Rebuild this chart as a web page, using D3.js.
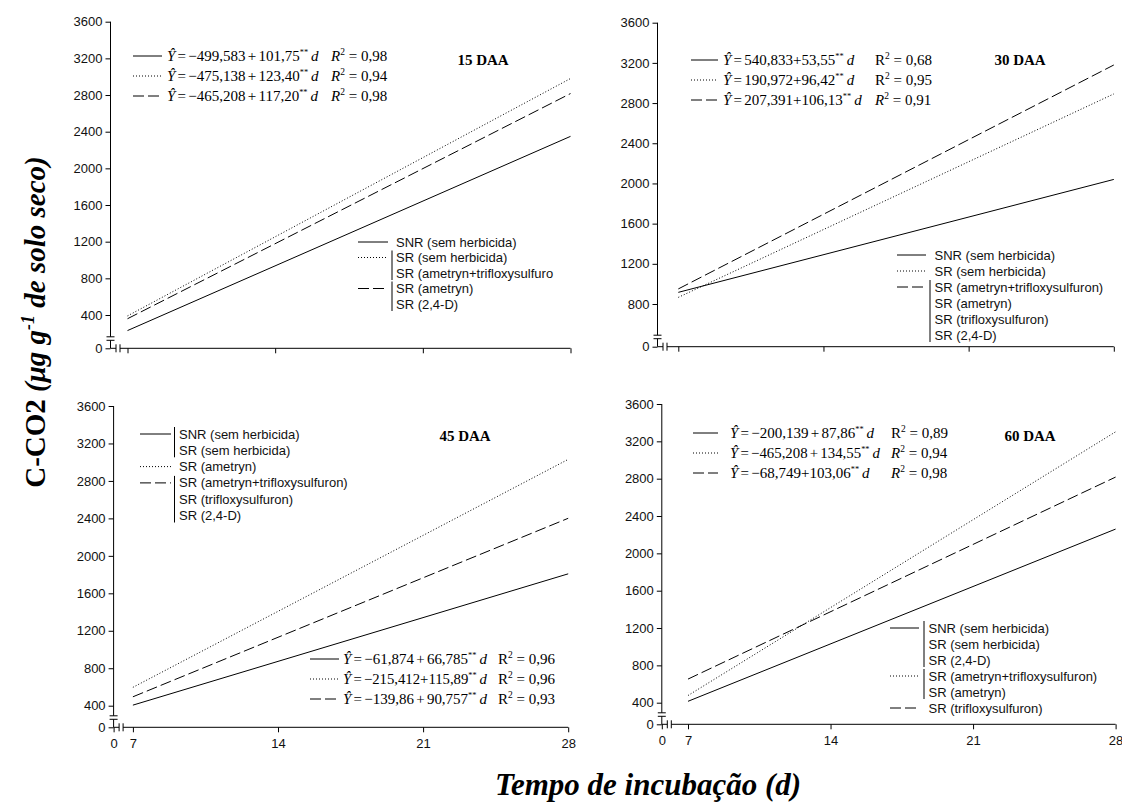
<!DOCTYPE html>
<html>
<head>
<meta charset="utf-8">
<script src="https://cdn.jsdelivr.net/npm/d3@7"></script>
<style>
  body { margin: 0; background: #fff; }
  svg { display: block; }
  .tick text { font-family: "Liberation Sans", Arial, sans-serif; font-size: 13px; fill: #111; }
</style>
</head>
<body>
<svg id="chart" width="1122" height="805"></svg>
<script>
const days = [7, 28];
const xTicks = [0, 7, 14, 21, 28];
const yTicks = [0, 400, 800, 1200, 1600, 2000, 2400, 2800, 3200, 3600];
const yTicks30 = [0, 800, 1200, 1600, 2000, 2400, 2800, 3200, 3600];
const titles = ["15 DAA", "30 DAA", "45 DAA", "60 DAA"];

// fitted C-CO2 at 7 and 28 days
const solid15 = [213, 2349], dotted15 = [389, 2980], dashed15 = [355, 2816];
const solid30 = [916, 2040], dotted30 = [866, 2891], dashed30 = [950, 3179];
const solid45 = [406, 1808], dotted45 = [596, 3030], dashed45 = [495, 2401];
const solid60 = [415, 2260], dotted60 = [477, 3302], dashed60 = [653, 2817];

// regression rows: intercept, slope, R², R in italic
const eq15 = [["\u2212499,583 + ", "101,75", "0,98", true],
              ["\u2212475,138 + ", "123,40", "0,94", true],
              ["\u2212465,208 + ", "117,20", "0,98", true]];
const eq30 = [["540,833+", "53,55", "0,68", false],
              ["190,972+", "96,42", "0,95", false],
              ["207,391+", "106,13", "0,91", true]];
const eq45 = [["\u221261,874 + ", "66,785", "0,96", false],
              ["\u2212215,412+", "115,89", "0,96", false],
              ["\u2212139,86 + ", "90,757", "0,93", false]];
const eq60 = [["\u2212200,139 + ", "87,86", "0,89", false],
              ["\u2212465,208 + ", "134,55", "0,94", true],
              ["\u221268,749+", "103,06", "0,98", true]];

// legend groups: line style, rows
const leg15 = [["solid", ["SNR (sem herbicida)"]],
               ["dotted", ["SR (sem herbicida)", "SR (ametryn+trifloxysulfuro"]],
               ["dashed", ["SR (ametryn)", "SR (2,4-D)"]]];
const leg30 = [["solid", ["SNR (sem herbicida)"]],
               ["dotted", ["SR (sem herbicida)"]],
               ["dashed", ["SR (ametryn+trifloxysulfuron)", "SR (ametryn)", "SR (trifloxysulfuron)", "SR (2,4-D)"]]];
const leg45 = [["solid", ["SNR (sem herbicida)", "SR (sem herbicida)"]],
               ["dotted", ["SR (ametryn)"]],
               ["dashed", ["SR (ametryn+trifloxysulfuron)", "SR (trifloxysulfuron)", "SR (2,4-D)"]]];
const leg60 = [["solid", ["SNR (sem herbicida)", "SR (sem herbicida)", "SR (2,4-D)"]],
               ["dotted", ["SR (ametryn+trifloxysulfuron)", "SR (ametryn)"]],
               ["dashed", ["SR (trifloxysulfuron)"]]];

const dash = { solid: null, dotted: "1,2", dashed: "11,4" };
const serif = '"Liberation Serif", "Times New Roman", serif';
const sans = '"Liberation Sans", Arial, sans-serif';

const svg = d3.select("#chart");

const panels = [
  { title: titles[0], series: [solid15, dotted15, dashed15], eq: eq15, leg: leg15, yt: yTicks, yBreak: 400,
    xr: [110.5, 127.5, 570.5], yr: [348.3, 315, 21.7], labels: false,
    tpos: [483, 65], ePos: { s: [133, 162], x: 167, r: 331, y: 61 }, lPos: { s: [358, 388], b: 392, x: 396, y: 242, dy: 15.5 } },
  { title: titles[1], series: [solid30, dotted30, dashed30], eq: eq30, leg: leg30, yt: yTicks30, yBreak: 800,
    xr: [657.5, 678.3, 1113.8], yr: [346.7, 304, 22.7], labels: false,
    tpos: [1020, 65], ePos: { s: [691, 718], x: 723, r: 875, y: 65 }, lPos: { s: [897, 926], b: 930, x: 934.5, y: 255, dy: 16 } },
  { title: titles[2], series: [solid45, dotted45, dashed45], eq: eq45, leg: leg45, yt: yTicks, yBreak: 400,
    xr: [113.6, 132.9, 568.2], yr: [727.3, 705.7, 406], labels: true,
    tpos: [465, 441], ePos: { s: [310, 339], x: 343, r: 498, y: 664 }, lPos: { s: [140, 171], b: 174.5, x: 179, y: 434, dy: 16.3 } },
  { title: titles[3], series: [solid60, dotted60, dashed60], eq: eq60, leg: leg60, yt: yTicks, yBreak: 400,
    xr: [661.8, 688, 1115.6], yr: [724.3, 702.7, 404], labels: true,
    tpos: [1030, 441], ePos: { s: [693, 718], x: 730, r: 891, y: 438 }, lPos: { s: [890, 919], b: 924, x: 928.5, y: 628, dy: 16 } },
];

const styleOrder = ["solid", "dotted", "dashed"];

function drawPanel(p) {
  const x = d3.scaleLinear().domain([0, 7, 28]).range(p.xr);
  const y = d3.scaleLinear().domain([0, p.yBreak, 3600]).range(p.yr);
  const g = svg.append("g");

  // y axis with break
  const ya = g.append("g").attr("transform", `translate(${x(0)},0)`)
    .call(d3.axisLeft(y).tickValues(p.yt).tickSize(5).tickPadding(3).tickFormat(d3.format("d")));
  ya.select(".domain").remove();
  const x0 = x(0), y0 = y(0);
  g.append("line").attr("x1", x0).attr("x2", x0).attr("y1", y(3600)).attr("y2", y0 - 11.5).attr("stroke", "#000");
  g.append("line").attr("x1", x0).attr("x2", x0).attr("y1", y0 - 8).attr("y2", y0).attr("stroke", "#000");
  [y0 - 11.5, y0 - 8].forEach((v) => {
    g.append("line").attr("x1", x0 - 4).attr("x2", x0 + 4).attr("y1", v).attr("y2", v).attr("stroke", "#000");
  });

  // x axis with break
  const xa = g.append("g").attr("transform", `translate(0,${y0})`)
    .call(d3.axisBottom(x).tickValues(p.labels ? xTicks : xTicks.slice(1)).tickSize(5).tickPadding(6)
      .tickFormat(p.labels ? d3.format("d") : () => ""));
  xa.select(".domain").remove();
  g.append("line").attr("x1", x0).attr("x2", x0 + 5.5).attr("y1", y0).attr("y2", y0).attr("stroke", "#000");
  g.append("line").attr("x1", x0 + 9.5).attr("x2", x(28)).attr("y1", y0).attr("y2", y0).attr("stroke", "#000");
  [x0 + 5.5, x0 + 9.5].forEach((v) => {
    g.append("line").attr("x1", v).attr("x2", v).attr("y1", y0 - 4).attr("y2", y0 + 4).attr("stroke", "#000");
  });

  // regression lines
  const line = d3.line().x((d) => x(d[0])).y((d) => y(d[1]));
  p.series.forEach((s, i) => {
    g.append("path")
      .attr("d", line(days.map((d, j) => [d, s[j]])))
      .attr("fill", "none").attr("stroke", "#000").attr("stroke-width", 1)
      .attr("stroke-dasharray", dash[styleOrder[i]]);
  });

  // title
  g.append("text").attr("x", p.tpos[0]).attr("y", p.tpos[1]).attr("text-anchor", "middle")
    .style("font-family", serif).style("font-weight", "bold").style("font-size", "15px").text(p.title);

  // equations
  p.eq.forEach((row, i) => {
    const by = p.ePos.y + i * 20;
    g.append("line").attr("x1", p.ePos.s[0]).attr("x2", p.ePos.s[1]).attr("y1", by - 5).attr("y2", by - 5)
      .attr("stroke", "#000").attr("stroke-width", 1).attr("stroke-dasharray", dash[styleOrder[i]]);
    const t = g.append("text").attr("x", p.ePos.x).attr("y", by).style("font-family", serif)
      .style("font-size", "15px").style("word-spacing", "-1.5px");
    t.append("tspan").style("font-style", "italic").text("\u0176");
    t.append("tspan").text(" = " + row[0] + row[1]);
    t.append("tspan").attr("dy", "-0.68em").style("font-size", "0.56em").text("**");
    t.append("tspan").attr("dy", "0.38em").style("font-style", "italic").text("\u2009d");
    // shrink the formula a little if it would run into R²
    const room = p.ePos.r - p.ePos.x - 11;
    const len = t.node().getComputedTextLength();
    if (len > room) t.style("font-size", (15 * room / len).toFixed(2) + "px");
    const r = g.append("text").attr("x", p.ePos.r).attr("y", by).style("font-family", serif).style("font-size", "15px");
    r.append("tspan").style("font-style", row[3] ? "italic" : "normal").text("R");
    r.append("tspan").attr("dy", -6).style("font-size", "9.5px").text("2");
    r.append("tspan").attr("dy", 6).text(" = " + row[2]);
  });

  // legend
  let k = 0;
  p.leg.forEach(([style, rows]) => {
    const cy = p.lPos.y + k * p.lPos.dy;
    g.append("line").attr("x1", p.lPos.s[0]).attr("x2", p.lPos.s[1]).attr("y1", cy).attr("y2", cy)
      .attr("stroke", "#000").attr("stroke-width", 1).attr("stroke-dasharray", dash[style]);
    if (rows.length > 1) {
      g.append("line").attr("x1", p.lPos.b).attr("x2", p.lPos.b)
        .attr("y1", cy - 7).attr("y2", cy + (rows.length - 1) * p.lPos.dy + 7).attr("stroke", "#000");
    }
    rows.forEach((txt, j) => {
      g.append("text").attr("x", p.lPos.x).attr("y", cy + j * p.lPos.dy + 4.5)
        .style("font-family", sans).style("font-size", "13px").attr("fill", "#111").text(txt);
    });
    k += rows.length;
  });
}

panels.forEach(drawPanel);

// axis titles
const yt = svg.append("text").attr("transform", "translate(45,322) rotate(-90)").attr("text-anchor", "middle")
  .style("font-family", serif).style("font-weight", "bold").style("font-size", "29px");
yt.append("tspan").text("C-CO2  ");
yt.append("tspan").style("font-style", "italic").text("(\u03bcg g");
yt.append("tspan").attr("dy", -11).style("font-size", "18px").style("font-style", "italic").text("-1");
yt.append("tspan").attr("dy", 11).style("font-style", "italic").text(" de solo seco)");

svg.append("text").attr("x", 648).attr("y", 795).attr("text-anchor", "middle")
  .style("font-family", serif).style("font-weight", "bold").style("font-style", "italic").style("font-size", "31px")
  .text("Tempo de incubação (d)");
</script>
</body>
</html>
